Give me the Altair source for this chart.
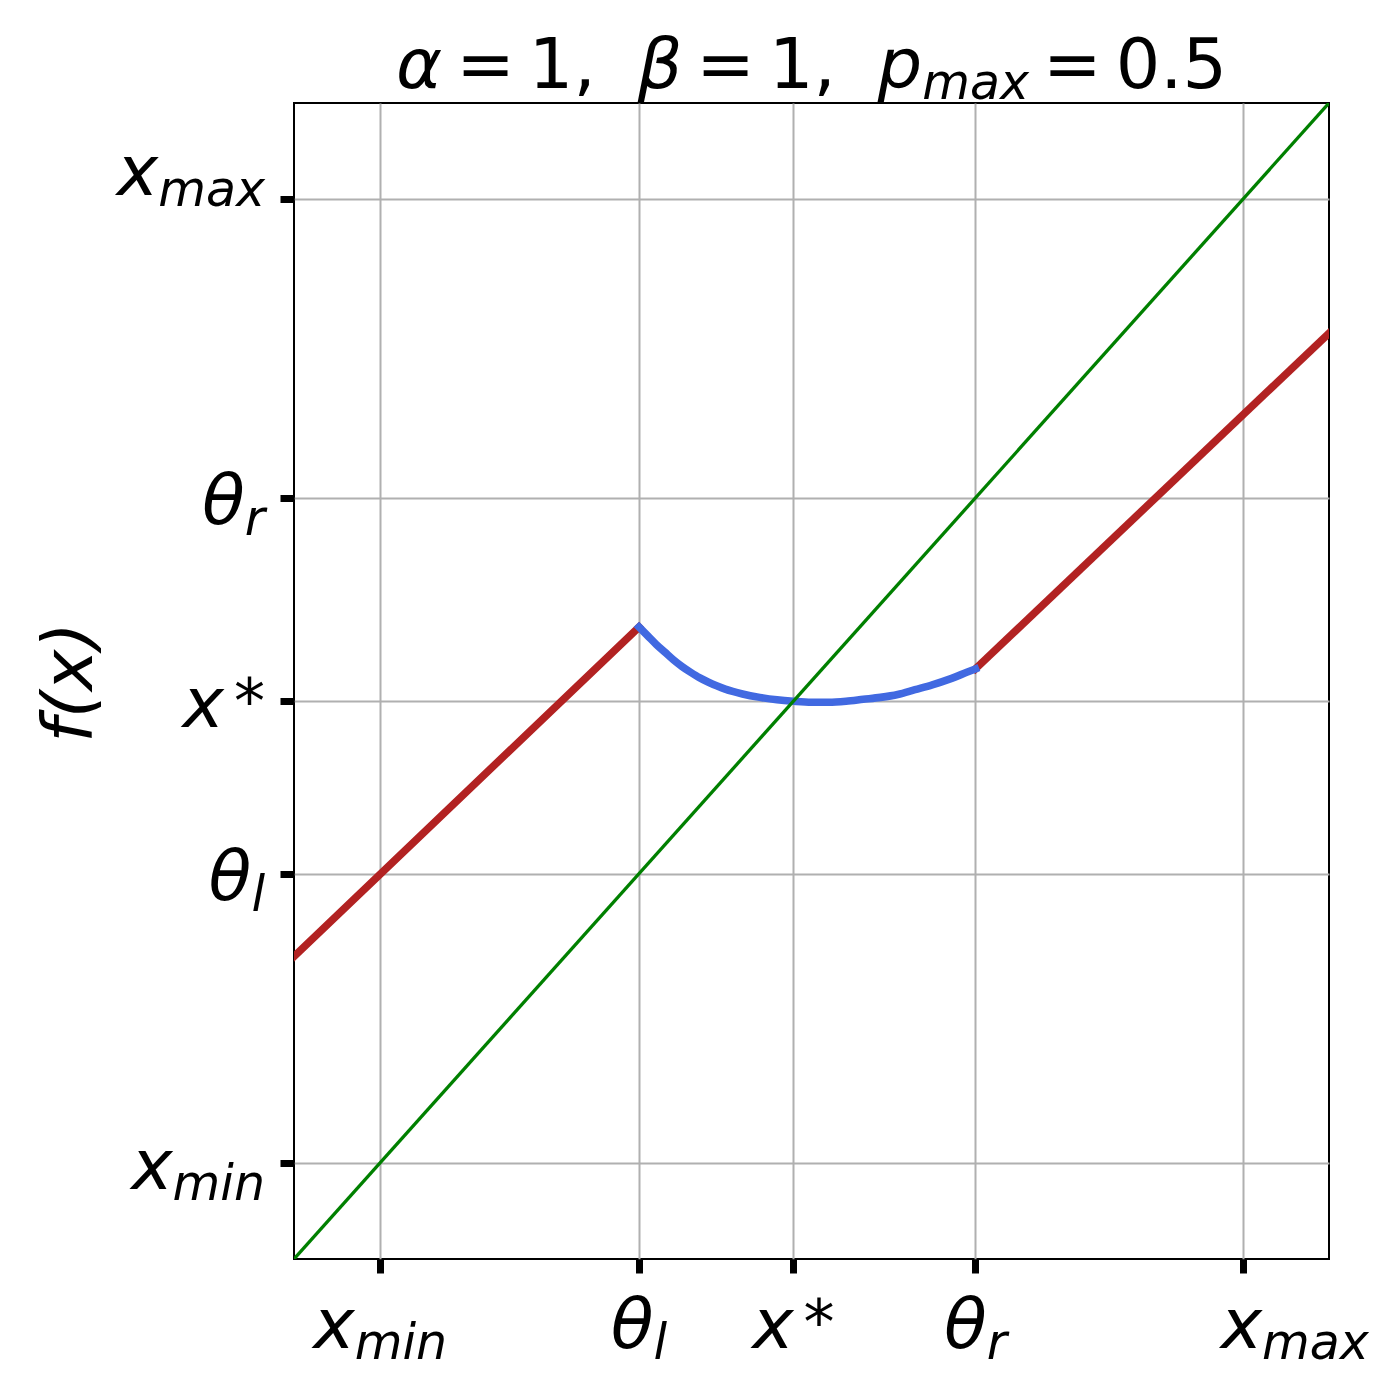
import altair as alt
import pandas as pd

# ---------------- data ----------------
AX_MIN, AX_MAX = -0.1, 1.1

tick_values = [0.0, 0.3, 0.479, 0.69, 1.0]
tick_base = ["x", "θ", "x", "θ", "x"]
tick_script = ["min", "l", "*", "r", "max"]
tick_script_kind = ["sub", "sub", "sup", "sub", "sub"]

identity_x = [-0.1, 1.1]
identity_y = [-0.1, 1.1]

red_left_x = [-0.1, 0.3]
red_left_y = [0.214, 0.556]
red_right_x = [0.69, 1.1]
red_right_y = [0.5125, 0.861]

blue_x = [0.30, 0.31, 0.32, 0.33, 0.34, 0.35, 0.36, 0.37, 0.38, 0.39, 0.40,
          0.42, 0.44, 0.46, 0.479, 0.50, 0.52, 0.54, 0.56, 0.58, 0.60,
          0.62, 0.64, 0.66, 0.68, 0.69]
blue_y = [0.556, 0.547, 0.538, 0.530, 0.522, 0.515, 0.509, 0.5035, 0.499, 0.495, 0.4915,
          0.4865, 0.483, 0.4805, 0.479, 0.478, 0.478, 0.479, 0.481, 0.483, 0.486,
          0.491, 0.496, 0.502, 0.509, 0.5125]

title_text = ["α", "=", "1,", "β", "=", "1,", "p", "max", "=", "0.5"]
title_italic = [True, False, False, True, False, False, True, True, False, False]
title_is_sub = [False, False, False, False, False, False, False, True, False, False]

y_title = "f(x)"

# ---------------- style ----------------
W, H = 1035, 1156
FS = 70          # main font size
SS = 49          # subscript font size
SUP_SIZE = 62    # superscript (asterisk) font size
FONT = "DejaVu Sans"
SUB_DROP = 11
SUP_RISE = 4
SUP_GAP = 10
XLABEL_BASELINE = 89
XLABEL_NUDGE = {1.0: 52}
YLABEL_GAP = 29
YLABEL_BASELINE = 26
YLABEL_NUDGE = {1.0: -30}
TITLE_BASELINE = -15
TITLE_GAPS_EM = [0.2, 0.2, 0.6, 0.2, 0.2, 0.6, 0.0, 0.2, 0.2, 0.0]
THICK = 7.6
THIN = 3.3

CHAR_EM = {"x": 0.592, "m": 0.974, "a": 0.613, "i": 0.278, "n": 0.634, "l": 0.278,
           "r": 0.411, "*": 0.5, "θ": 0.612, "α": 0.659, "β": 0.638, "p": 0.635,
           "=": 0.838, "1": 0.636, "0": 0.636, "5": 0.636, ".": 0.318, ",": 0.318,
           " ": 0.318}

PXU_X = W / (AX_MAX - AX_MIN)
PXU_Y = H / (AX_MAX - AX_MIN)


def em_width(s):
    return sum(CHAR_EM[c] for c in s)


def px_to_x(px):
    return AX_MIN + px / PXU_X


def px_to_y(py):
    return AX_MAX - py / PXU_Y


# ---------------- tables ----------------
lines_df = pd.concat([
    pd.DataFrame({"x": red_left_x, "y": red_left_y, "seg": "left"}),
    pd.DataFrame({"x": red_right_x, "y": red_right_y, "seg": "right"}),
])
blue_df = pd.DataFrame({"x": blue_x, "y": blue_y})
green_df = pd.DataFrame({"x": identity_x, "y": identity_y})

xl_rows, yl_rows = [], []
for v, b, s, k in zip(tick_values, tick_base, tick_script, tick_script_kind):
    ssize = SS if k == "sub" else SUP_SIZE
    wb = em_width(b) * FS
    ws = em_width(s) * ssize
    gap = SUP_GAP if k == "sup" else 0
    # x axis labels (left aligned pieces)
    left = -(wb + gap + ws) / 2 + XLABEL_NUDGE.get(v, 0)
    base_py = H + XLABEL_BASELINE
    spy = base_py + SUB_DROP if k == "sub" else base_py - SUP_RISE
    xl_rows.append({"x": v + left / PXU_X, "y": px_to_y(base_py), "text": b, "fs": FS})
    xl_rows.append({"x": v + (left + wb + gap) / PXU_X, "y": px_to_y(spy), "text": s, "fs": ssize})
    # y axis labels (right aligned pieces)
    tick_py = (AX_MAX - v) * PXU_Y
    bpy = tick_py + YLABEL_BASELINE + YLABEL_NUDGE.get(v, 0)
    spy = bpy + SUB_DROP if k == "sub" else bpy - SUP_RISE
    yl_rows.append({"x": px_to_x(-YLABEL_GAP), "y": px_to_y(spy), "text": s, "fs": ssize})
    yl_rows.append({"x": px_to_x(-YLABEL_GAP - ws - gap), "y": px_to_y(bpy), "text": b, "fs": FS})
xlab_df = pd.DataFrame(xl_rows)
ylab_df = pd.DataFrame(yl_rows)

widths = []
for t, sub in zip(title_text, title_is_sub):
    widths.append(em_width(t) * (SS if sub else FS))
total = sum(widths) + sum(g * FS for g in TITLE_GAPS_EM)
cursor = W / 2 - total / 2
t_rows = []
for t, it, sub, w, g in zip(title_text, title_italic, title_is_sub, widths, TITLE_GAPS_EM):
    t_rows.append({"x": px_to_x(cursor),
                   "y": px_to_y(TITLE_BASELINE + (SUB_DROP if sub else 0)),
                   "text": t, "fs": SS if sub else FS, "italic": it})
    cursor += w + g * FS
title_df = pd.DataFrame(t_rows)

# ---------------- chart ----------------
sc = alt.Scale(domain=[AX_MIN, AX_MAX], nice=False, zero=False)
xax = alt.Axis(values=tick_values, labels=False, title=None, domain=False,
               ticks=True, tickSize=14, tickWidth=7, tickColor="black",
               grid=True, gridColor="#b0b0b0", gridWidth=2)
yax = alt.Axis(values=tick_values, labels=False, title=y_title, domain=False,
               ticks=True, tickSize=14, tickWidth=7, tickColor="black",
               grid=True, gridColor="#b0b0b0", gridWidth=2,
               titleFont=FONT, titleFontSize=FS, titleFontStyle="italic",
               titleFontWeight="normal", titleColor="black",
               titleAngle=270, titleAlign="center", titleBaseline="alphabetic",
               titleX=-203, titleY=579)


def enc(chart):
    return chart.encode(
        x=alt.X("x:Q", scale=sc, axis=xax),
        y=alt.Y("y:Q", scale=sc, axis=yax),
    )


red = enc(alt.Chart(lines_df).mark_line(color="#b22222", strokeWidth=THICK, strokeCap="square",
                                        clip=True)).encode(detail="seg:N")
blue = enc(alt.Chart(blue_df).mark_line(color="#4169e1", strokeWidth=THICK, strokeJoin="round",
                                         interpolate="monotone", strokeCap="square"))
green = enc(alt.Chart(green_df).mark_line(color="#008000", strokeWidth=THIN, clip=True))

xlabels = enc(alt.Chart(xlab_df).mark_text(align="left", baseline="alphabetic", font=FONT,
                                           fontStyle="italic", color="black")).encode(
    text="text:N", size=alt.Size("fs:Q", scale=None, legend=None))
ylabels = enc(alt.Chart(ylab_df).mark_text(align="right", baseline="alphabetic", font=FONT,
                                           fontStyle="italic", color="black")).encode(
    text="text:N", size=alt.Size("fs:Q", scale=None, legend=None))
title_it = enc(alt.Chart(title_df[title_df["italic"]]).mark_text(
    align="left", baseline="alphabetic", font=FONT, fontStyle="italic", color="black")).encode(
    text="text:N", size=alt.Size("fs:Q", scale=None, legend=None))
title_up = enc(alt.Chart(title_df[~title_df["italic"]]).mark_text(
    align="left", baseline="alphabetic", font=FONT, fontStyle="normal", color="black")).encode(
    text="text:N", size=alt.Size("fs:Q", scale=None, legend=None))

chart = alt.layer(red, blue, green, xlabels, ylabels, title_it, title_up).properties(
    width=W, height=H,
    autosize="none",
    padding={"left": 286, "top": 95, "right": 56, "bottom": 125},
    background="white",
).configure_view(stroke="black", strokeWidth=2)

chart.save("out.html", embed_options={"renderer": "svg", "actions": False})
